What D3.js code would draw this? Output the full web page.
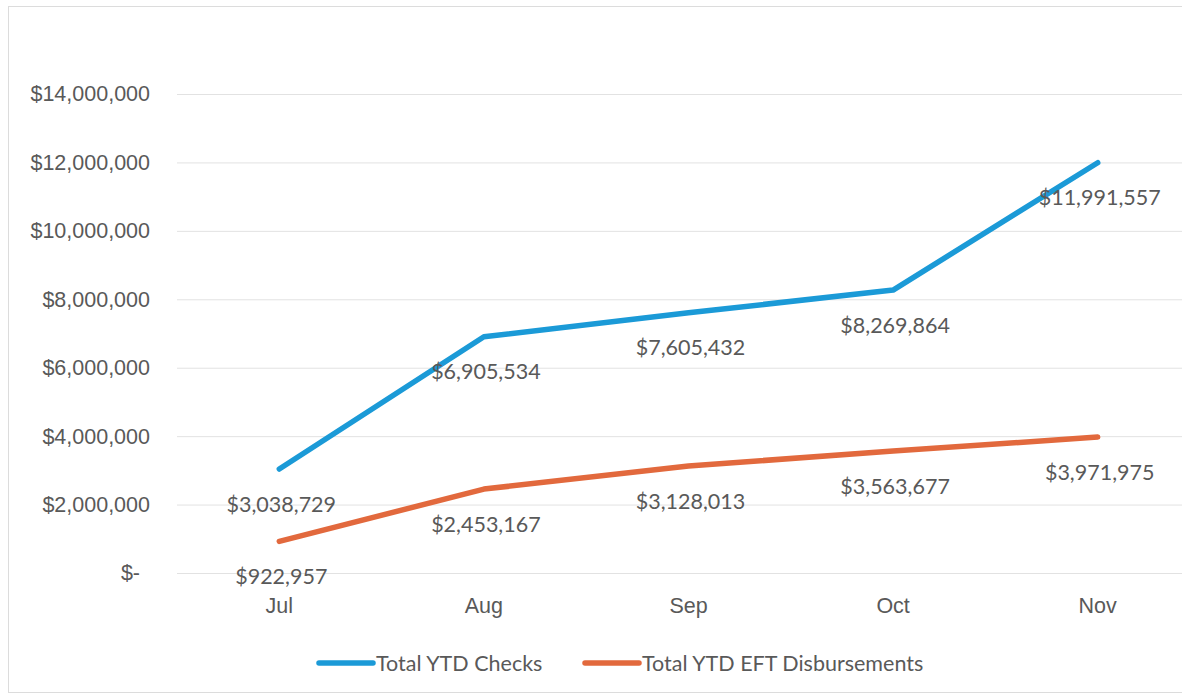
<!DOCTYPE html>
<html>
<head>
<meta charset="utf-8">
<script src="https://cdn.jsdelivr.net/npm/d3@7"></script>
<style>
  html, body { margin: 0; padding: 0; background: #fff; }
  svg { display: block; font-family: Lato, "Liberation Sans", sans-serif; }
</style>
</head>
<body>
<div id="chart"></div>
<script>
// data
const months = ['Jul', 'Aug', 'Sep', 'Oct', 'Nov'];
const checks = [3038729, 6905534, 7605432, 8269864, 11991557];
const eft = [922957, 2453167, 3128013, 3563677, 3971975];
const yTicks = [0, 2000000, 4000000, 6000000, 8000000, 10000000, 12000000, 14000000];
const seriesNames = ['Total YTD Checks', 'Total YTD EFT Disbursements'];

const width = 1182, height = 696;
const margin = { top: 94, right: -18, bottom: 123, left: 177 };
const textColor = '#595959';
const colors = ['#1b9ad7', '#e2693d'];
const fontSize = '21.5px';

const svg = d3.select('#chart')
  .append('svg')
  .attr('width', width)
  .attr('height', height);

// chart border (runs off the right edge, as in the scan)
svg.append('rect')
  .attr('x', 8.5).attr('y', 6.5)
  .attr('width', 1200).attr('height', 686)
  .attr('fill', 'none')
  .attr('stroke', '#dcdcdc');

const x = d3.scaleBand()
  .domain(months)
  .range([margin.left, width - margin.right]);

const y = d3.scaleLinear()
  .domain([0, 14000000])
  .range([height - margin.bottom, margin.top]);

const cx = m => x(m) + x.bandwidth() / 2;
const money = d3.format('$,');

// y axis with gridlines
const yAxis = svg.append('g')
  .attr('transform', `translate(${margin.left},0)`)
  .call(d3.axisLeft(y)
    .tickValues(yTicks)
    .tickSize(-(width - margin.right - margin.left))
    .tickPadding(27)
    .tickFormat(d => d === 0 ? '$-' : money(d)));

yAxis.select('.domain').remove();
yAxis.selectAll('line')
  .attr('stroke', '#e2e2e2')
  .attr('stroke-width', 1);
yAxis.selectAll('text')
  .attr('fill', textColor)
  .style('font-size', fontSize);
yAxis.selectAll('.tick')
  .filter(d => d === 0)
  .select('text')
  .attr('dx', -10);

// x axis
const xAxis = svg.append('g')
  .attr('transform', `translate(0,${y(0)})`)
  .call(d3.axisBottom(x).tickSize(0).tickPadding(25));
xAxis.select('.domain').remove();
xAxis.selectAll('text')
  .attr('fill', textColor)
  .style('font-size', fontSize);

// lines
const line = d3.line()
  .x((d, i) => cx(months[i]))
  .y(d => y(d));

[checks, eft].forEach((series, k) => {
  svg.append('path')
    .datum(series)
    .attr('fill', 'none')
    .attr('stroke', colors[k])
    .attr('stroke-width', 5.5)
    .attr('stroke-linecap', 'round')
    .attr('stroke-linejoin', 'round')
    .attr('d', line);
});

// data labels, below each point
[checks, eft].forEach(series => {
  svg.append('g')
    .selectAll('text')
    .data(series)
    .join('text')
    .attr('x', (d, i) => cx(months[i]) + 2)
    .attr('y', d => y(d) + 35)
    .attr('dy', '0.35em')
    .attr('text-anchor', 'middle')
    .attr('fill', textColor)
    .style('font-size', fontSize)
    .text(d => money(d));
});

// legend
const legendY = 663;
const legendX = [319, 585];
const legend = svg.append('g')
  .selectAll('g')
  .data(seriesNames)
  .join('g')
  .attr('transform', (d, i) => `translate(${legendX[i]},${legendY})`);

legend.append('line')
  .attr('x1', 0).attr('x2', 54)
  .attr('stroke', (d, i) => colors[i])
  .attr('stroke-width', 5.5)
  .attr('stroke-linecap', 'round');

legend.append('text')
  .attr('x', 57)
  .attr('dy', '0.35em')
  .attr('fill', textColor)
  .style('font-size', fontSize)
  .text(d => d);
</script>
</body>
</html>
